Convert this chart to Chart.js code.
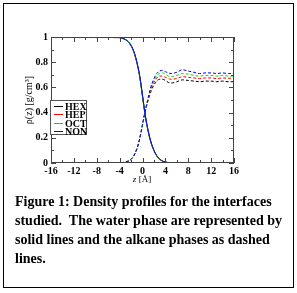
<!DOCTYPE html>
<html>
<head>
<meta charset="utf-8">
<script src="https://cdn.jsdelivr.net/npm/chart.js@4"></script>
<style>
  body { margin: 0; background: #fff; }
  #page { position: relative; width: 297px; height: 293px; overflow: hidden; }
  #frame { position: absolute; left: 3px; top: 3px; width: 291px; height: 285px; box-sizing: border-box; border: 1px solid #000; }
  #chartBox { position: absolute; left: 0; top: 0; width: 297px; height: 195px; }
  #legend { position: absolute; left: 50px; top: 100px; width: 37px; height: 35px; box-sizing: border-box;
    border: 1px solid #555; background: #fff; font: bold 10px "Liberation Serif", serif; }
  #legend div { position: absolute; left: 0; height: 9px; line-height: 9px; }
  #legend span.s { position: absolute; left: 3px; top: 4px; width: 9px; height: 0; border-top: 1px solid; }
  #legend span.t { position: absolute; left: 14px; top: 0; }
  #ytitle { position: absolute; left: 28px; top: 100px; transform: translate(-50%, -50%) rotate(-90deg);
    font: 10px "Liberation Serif", serif; white-space: nowrap; }
  #xtitle { position: absolute; left: 142px; top: 179px; transform: translate(-50%, -50%);
    font: 9px "Liberation Serif", serif; white-space: nowrap; }
  #caption { position: absolute; left: 15px; top: 192px; width: 272px;
    font: bold 14px "Liberation Serif", serif; line-height: 19px; color: #000; }
</style>
</head>
<body>
<div id="page">
  <div id="frame"></div>
  <div id="chartBox"><canvas id="densityChart" width="297" height="195"></canvas></div>
  <div id="legend"></div>
  <div id="ytitle">ρ(z) [g/cm³]</div>
  <div id="xtitle"><i>z</i> [Å]</div>
  <div id="caption">Figure 1: Density profiles for the interfaces studied.&nbsp; The water phase are represented by solid lines and the alkane phases as dashed lines.</div>
</div>
<script>
// density profiles

const zValues = [-16, -15, -14, -13, -12, -11, -10, -9, -8, -7, -6, -5, -4,
  -3.5, -3, -2.5, -2, -1.5, -1, -0.5, 0, 0.5, 1, 1.5, 2, 2.5, 3, 3.5, 4, 4.5, 5,
  6, 7, 8, 9, 10, 11, 12, 13, 14, 15, 16];

const names = ['HEX', 'HEP', 'OCT', 'NON'];
const colors = ['#000000', '#ff0000', '#00e000', '#0000ff'];

// water (solid)
const waterHEX = [1.0, 1.0, 0.995, 1.0, 1.0, 0.995, 1.0, 1.0, 0.995, 1.0, 1.0, 0.995, 0.995,
  0.99, 0.98, 0.96, 0.93, 0.88, 0.8, 0.69, 0.53, 0.37, 0.25, 0.16, 0.1, 0.055, 0.03, 0.015, 0.007, 0.003, 0.001,
  0, 0, 0, 0, 0, 0, 0, 0, 0, 0, 0];
const waterHEP = [1.0, 0.995, 1.0, 1.0, 0.995, 1.0, 1.0, 0.995, 1.0, 1.0, 0.995, 1.0, 0.995,
  0.99, 0.98, 0.96, 0.93, 0.88, 0.8, 0.69, 0.53, 0.37, 0.25, 0.16, 0.1, 0.055, 0.03, 0.015, 0.007, 0.003, 0.001,
  0, 0, 0, 0, 0, 0, 0, 0, 0, 0, 0];
const waterOCT = [0.995, 1.0, 1.0, 0.995, 1.0, 1.0, 0.995, 1.0, 1.0, 0.995, 1.0, 1.0, 0.995,
  0.99, 0.98, 0.96, 0.93, 0.88, 0.8, 0.69, 0.53, 0.37, 0.25, 0.16, 0.1, 0.055, 0.03, 0.015, 0.007, 0.003, 0.001,
  0, 0, 0, 0, 0, 0, 0, 0, 0, 0, 0];
const waterNON = [1.0, 1.0, 1.0, 1.0, 1.0, 1.0, 1.0, 1.0, 1.0, 1.0, 1.0, 1.0, 0.995,
  0.99, 0.98, 0.965, 0.935, 0.885, 0.805, 0.695, 0.54, 0.375, 0.255, 0.165, 0.1, 0.058, 0.032, 0.016, 0.008, 0.003, 0.001,
  0, 0, 0, 0, 0, 0, 0, 0, 0, 0, 0];

// alkane (dashed)
const alkHEX = [0, 0, 0, 0, 0, 0, 0, 0, 0, 0, 0, 0, 0,
  0.003, 0.008, 0.015, 0.03, 0.06, 0.11, 0.19, 0.3, 0.41, 0.5, 0.57, 0.62, 0.65, 0.665, 0.665, 0.655, 0.64, 0.635,
  0.645, 0.66, 0.655, 0.65, 0.645, 0.65, 0.65, 0.645, 0.65, 0.645, 0.645];
const alkHEP = [0, 0, 0, 0, 0, 0, 0, 0, 0, 0, 0, 0, 0,
  0.003, 0.008, 0.015, 0.03, 0.06, 0.11, 0.19, 0.3, 0.415, 0.51, 0.59, 0.64, 0.675, 0.69, 0.69, 0.68, 0.67, 0.665,
  0.67, 0.685, 0.68, 0.675, 0.67, 0.675, 0.675, 0.67, 0.675, 0.672, 0.675];
const alkOCT = [0, 0, 0, 0, 0, 0, 0, 0, 0, 0, 0, 0, 0,
  0.003, 0.008, 0.015, 0.03, 0.06, 0.11, 0.19, 0.3, 0.415, 0.515, 0.6, 0.655, 0.69, 0.71, 0.715, 0.705, 0.69, 0.685,
  0.695, 0.71, 0.705, 0.695, 0.69, 0.695, 0.695, 0.69, 0.695, 0.69, 0.69];
const alkNON = [0, 0, 0, 0, 0, 0, 0, 0, 0, 0, 0, 0, 0,
  0.003, 0.008, 0.015, 0.03, 0.06, 0.11, 0.19, 0.31, 0.42, 0.52, 0.61, 0.67, 0.71, 0.73, 0.735, 0.725, 0.715, 0.71,
  0.72, 0.74, 0.73, 0.72, 0.71, 0.715, 0.715, 0.71, 0.715, 0.71, 0.71];

const waterSeries = [waterHEX, waterHEP, waterOCT, waterNON];
const alkaneSeries = [alkHEX, alkHEP, alkOCT, alkNON];

const xTicks = [-16, -12, -8, -4, 0, 4, 8, 12, 16];
const yTicks = [0, 0.2, 0.4, 0.6, 0.8, 1];
const yTickLabels = ['0', '0.2', '0.4', '0.6', '0.8', '1'];

function toPoints(ys) {
  return zValues.map((z, i) => ({ x: z, y: ys[i] }));
}

const datasets = [];
names.forEach((name, k) => {
  datasets.push({
    label: name + ' water',
    data: toPoints(waterSeries[k]),
    borderColor: colors[k],
    borderWidth: 1,
    order: 10 - k,
  });
  datasets.push({
    label: name + ' alkane',
    data: toPoints(alkaneSeries[k]),
    borderColor: colors[k],
    borderWidth: 1,
    borderDash: [3, 2],
    order: 10 - k,
  });
});

// frame with inward ticks on all four sides
const frameTicks = {
  id: 'frameTicks',
  afterDatasetsDraw(chart) {
    const ctx = chart.ctx;
    const a = chart.chartArea;
    const xs = chart.scales.x;
    const ys = chart.scales.y;
    ctx.save();
    ctx.strokeStyle = '#444';
    ctx.lineWidth = 1;
    ctx.strokeRect(a.left + 0.5, a.top + 0.5, a.right - a.left - 1, a.bottom - a.top - 1);
    ctx.beginPath();
    for (let v = -16; v <= 16; v += 2) {
      const len = v % 4 === 0 ? 5 : 3;
      const px = Math.round(xs.getPixelForValue(v)) + 0.5;
      ctx.moveTo(px, a.bottom);
      ctx.lineTo(px, a.bottom - len);
      ctx.moveTo(px, a.top);
      ctx.lineTo(px, a.top + len);
    }
    for (let i = 0; i <= 10; i++) {
      const len = i % 2 === 0 ? 5 : 3;
      const py = Math.round(ys.getPixelForValue(i / 10)) + 0.5;
      ctx.moveTo(a.left, py);
      ctx.lineTo(a.left + len, py);
      ctx.moveTo(a.right, py);
      ctx.lineTo(a.right - len, py);
    }
    ctx.stroke();
    ctx.restore();
  },
};

const tickFont = { family: 'Liberation Serif', size: 10, weight: 'bold' };

new Chart(document.getElementById('densityChart'), {
  type: 'line',
  data: { datasets: datasets },
  options: {
    responsive: false,
    animation: false,
    events: [],
    layout: { padding: { left: 0, top: 37, right: 63, bottom: 0 } },
    elements: {
      point: { radius: 0 },
      line: { tension: 0.4, cubicInterpolationMode: 'monotone' },
    },
    scales: {
      x: {
        type: 'linear',
        min: -16,
        max: 16,
        grid: { display: false, drawTicks: false, tickLength: 0 },
        border: { display: false },
        afterBuildTicks: (s) => { s.ticks = xTicks.map((v) => ({ value: v })); },
        afterFit: (s) => { s.height = 32; },
        ticks: { color: '#000', font: tickFont, padding: 2, maxRotation: 0, autoSkip: false },
      },
      y: {
        min: 0,
        max: 1,
        grid: { display: false, drawTicks: false, tickLength: 0 },
        border: { display: false },
        afterBuildTicks: (s) => { s.ticks = yTicks.map((v) => ({ value: v })); },
        afterFit: (s) => { s.width = 51; },
        ticks: {
          color: '#000',
          font: tickFont,
          padding: 3,
          autoSkip: false,
          callback: (v, i) => yTickLabels[i],
        },
      },
    },
    plugins: {
      legend: { display: false },
      tooltip: { enabled: false },
    },
  },
  plugins: [frameTicks],
});

// legend box
const legend = document.getElementById('legend');
names.forEach((name, k) => {
  const row = document.createElement('div');
  row.style.top = (1 + k * 8.3) + 'px';
  row.style.width = '100%';
  row.innerHTML = '<span class="s" style="border-color:' + colors[k] + '"></span><span class="t">' + name + '</span>';
  legend.appendChild(row);
});
</script>
</body>
</html>
